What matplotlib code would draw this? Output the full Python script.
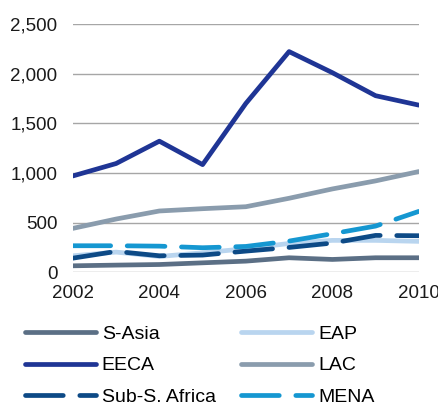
import numpy as np
import matplotlib.pyplot as plt
from matplotlib.ticker import FuncFormatter

plt.rcParams['font.family'] = ['Liberation Sans', 'DejaVu Sans']

# DATE
years = [2002, 2003, 2004, 2005, 2006, 2007, 2008, 2009, 2010]
s_asia = [64, 71, 77, 94, 111, 145, 128, 145, 145]
eap = [165, 202, 158, 195, 236, 289, 320, 320, 310]
eeca = [969, 1094, 1319, 1083, 1699, 2221, 2009, 1777, 1682]
lac = [441, 535, 616, 639, 659, 744, 838, 919, 1013]
ssa = [141, 209, 165, 172, 212, 249, 293, 370, 367]
mena = [266, 266, 262, 246, 259, 313, 387, 464, 612]

fig = plt.figure(figsize=(4.39, 4.05), dpi=100)
ax = fig.add_axes([0.166, 0.328, 0.788, 0.613])

lw = 3.4
l1, = ax.plot(years, s_asia, color='#5b6f85', lw=lw, label='S-Asia', solid_capstyle='round', zorder=3)
l2, = ax.plot(years, eap, color='#b9d5ef', lw=lw, label='EAP', solid_capstyle='round', zorder=3)
l3, = ax.plot(years, eeca, color='#1f3595', lw=lw, label='EECA', solid_capstyle='round', zorder=3)
l4, = ax.plot(years, lac, color='#8a9cad', lw=lw, label='LAC', solid_capstyle='round', zorder=3)
l5, = ax.plot(years, ssa, color='#0d4a86', lw=lw, ls=(0, (8, 3.5)), label='Sub-S. Africa', dash_capstyle='round', zorder=3)
l6, = ax.plot(years, mena, color='#1597d1', lw=lw, ls=(0, (8, 3.5)), label='MENA', dash_capstyle='round', zorder=3)

ax.set_xlim(2002, 2010)
ax.set_ylim(0, 2500)
ax.set_xticks([2002, 2004, 2006, 2008, 2010])
ax.set_yticks(np.arange(0, 2501, 500))
ax.yaxis.set_major_formatter(FuncFormatter(lambda v, p: f'{int(v):,}'))
ax.grid(axis='y', color='#a6a6a6', lw=1)
ax.set_axisbelow(True)
for s in ax.spines.values():
    s.set_visible(False)
ax.tick_params(length=0, labelsize=13.5, colors='#1a1a1a')
ax.tick_params(axis='y', pad=11)
ax.tick_params(axis='x', pad=9)

# ordinea pe randuri: S-Asia, EAP / EECA, LAC / Sub-S. Africa, MENA
h = [l1, l3, l5, l2, l4, l6]
fig.legend(h, [x.get_label() for x in h], loc='upper left', bbox_to_anchor=(0.057, 0.196),
           ncol=2, frameon=False, fontsize=14, handlelength=3.65, handletextpad=0.3,
           columnspacing=1.3, labelspacing=0.7, borderaxespad=0, borderpad=0)

fig.savefig('out.png', dpi=100)
